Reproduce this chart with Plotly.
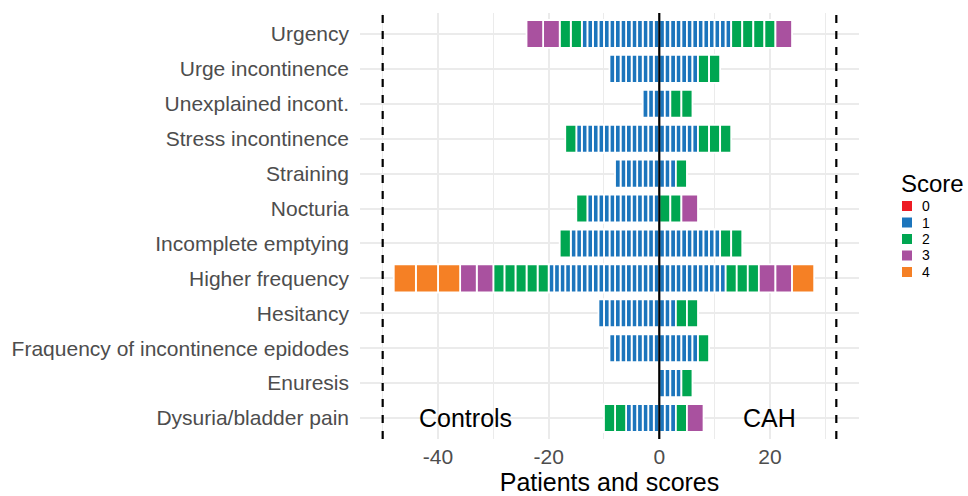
import plotly.graph_objects as go

# Symptoms, listed top to bottom
symptoms = [
    "Urgency",
    "Urge incontinence",
    "Unexplained incont.",
    "Stress incontinence",
    "Straining",
    "Nocturia",
    "Incomplete emptying",
    "Higher frequency",
    "Hesitancy",
    "Fraquency of incontinence epidodes",
    "Enuresis",
    "Dysuria/bladder pain",
]

scores = [0, 1, 2, 3, 4]

# Number of patients per score (0, 1, 2, 3, 4) for each symptom
controls_counts = [
    [0, 14, 2, 2, 0],
    [0, 9, 0, 0, 0],
    [0, 3, 0, 0, 0],
    [0, 15, 1, 0, 0],
    [0, 8, 0, 0, 0],
    [0, 13, 1, 0, 0],
    [0, 16, 1, 0, 0],
    [0, 20, 5, 2, 3],
    [0, 11, 0, 0, 0],
    [0, 9, 0, 0, 0],
    [0, 0, 0, 0, 0],
    [0, 6, 2, 0, 0],
]

cah_counts = [
    [0, 13, 4, 1, 0],
    [0, 7, 2, 0, 0],
    [0, 2, 2, 0, 0],
    [0, 7, 3, 0, 0],
    [0, 3, 1, 0, 0],
    [0, 0, 2, 1, 0],
    [0, 11, 2, 0, 0],
    [0, 12, 3, 2, 1],
    [0, 3, 2, 0, 0],
    [0, 7, 1, 0, 0],
    [0, 4, 1, 0, 0],
    [0, 3, 1, 1, 0],
]

score_colors = ["#ED1C24", "#1C75BC", "#00A651", "#A9519F", "#F58025"]

x_tick_vals = [-40, -20, 0, 20]
x_tick_text = ["-40", "-20", "0", "20"]
x_minor_vals = [-50, -30, -10, 10, 30]
cutoff_lines = [-50, 32]

# Figure geometry (pixels)
W, H = 968, 496
M_L, M_R, M_T, M_B = 360, 109, 13, 57
PW, PH = W - M_L - M_R, H - M_T - M_B


def px_x(px):
    return (px - M_L) / PW


def px_y(py):
    return (H - M_B - py) / PH


# Build one segment per patient; each segment is as wide as its score.
seg = {s: {"x": [], "y": [], "base": []} for s in scores}
for counts, sign in ((controls_counts, -1), (cah_counts, 1)):
    for sym, row in zip(symptoms, counts):
        pos = 0
        for s in scores:
            for _ in range(row[s]):
                seg[s]["x"].append(sign * s)
                seg[s]["y"].append(sym)
                seg[s]["base"].append(sign * pos)
                pos += s

fig = go.Figure()
for s, col in zip(scores, score_colors):
    xs, ys, bs = seg[s]["x"], seg[s]["y"], seg[s]["base"]
    if not xs:
        xs, ys, bs = [0], [symptoms[0]], [0]
    fig.add_trace(go.Bar(
        x=xs, y=ys, base=bs, orientation="h", name=str(s),
        width=0.8, showlegend=False,
        marker=dict(color=col, line=dict(color="white", width=1.8)),
        hoverinfo="skip",
    ))

for xv in cutoff_lines:
    fig.add_shape(type="line", x0=xv, x1=xv, y0=0, y1=1, xref="x", yref="paper",
                  line=dict(color="black", width=2.2, dash="8px,8px"), layer="above")
fig.add_shape(type="line", x0=0, x1=0, y0=0, y1=1, xref="x", yref="paper",
              line=dict(color="black", width=2.2), layer="above")

fig.add_annotation(x=-35, y=symptoms[-1], text="Controls", showarrow=False,
                   font=dict(size=25, color="black"))
fig.add_annotation(x=20, y=symptoms[-1], text="CAH", showarrow=False,
                   font=dict(size=25, color="black"))

# Score legend: title, colour keys and labels
fig.add_annotation(x=px_x(899), y=px_y(183), xref="paper", yref="paper",
                   xanchor="left", yanchor="middle", text="Score", showarrow=False,
                   font=dict(size=24, color="black"))
key_top, key_step, key_size = 201, 16.5, 10
for i, (s, col) in enumerate(zip(scores, score_colors)):
    yc = key_top + key_size / 2 + i * key_step
    fig.add_shape(type="rect", xref="paper", yref="paper",
                  x0=px_x(902), x1=px_x(902 + key_size),
                  y0=px_y(yc - key_size / 2), y1=px_y(yc + key_size / 2),
                  fillcolor=col, line=dict(width=0))
    fig.add_annotation(x=px_x(920), y=px_y(yc), xref="paper", yref="paper",
                       xanchor="left", yanchor="middle", text=str(s), showarrow=False,
                       font=dict(size=14, color="black"))

fig.update_layout(
    width=W, height=H,
    margin=dict(l=M_L, r=M_R, t=M_T, b=M_B, autoexpand=False),
    barmode="overlay",
    paper_bgcolor="white", plot_bgcolor="white",
    font=dict(family="Liberation Sans, Arial, sans-serif", color="#4D4D4D"),
    showlegend=False,
    xaxis=dict(
        range=[-54.1, 36.1], tickvals=x_tick_vals, ticktext=x_tick_text,
        showgrid=True, gridcolor="#EBEBEB", gridwidth=2, zeroline=False,
        minor=dict(tickvals=x_minor_vals, showgrid=True, gridcolor="#EBEBEB", gridwidth=1),
        tickfont=dict(size=21, color="#4D4D4D"), ticks="", ticklabelstandoff=3,
        title=dict(text="Patients and scores", font=dict(size=25, color="black"), standoff=9),
        automargin=False, fixedrange=True,
    ),
    yaxis=dict(
        categoryorder="array", categoryarray=symptoms, range=[11.6, -0.6],
        showgrid=True, gridcolor="#EBEBEB", gridwidth=2, zeroline=False,
        tickfont=dict(size=21, color="#4D4D4D"), ticks="", ticklabelstandoff=10,
        automargin=False, fixedrange=True,
    ),
)

fig.write_html("out.html")
